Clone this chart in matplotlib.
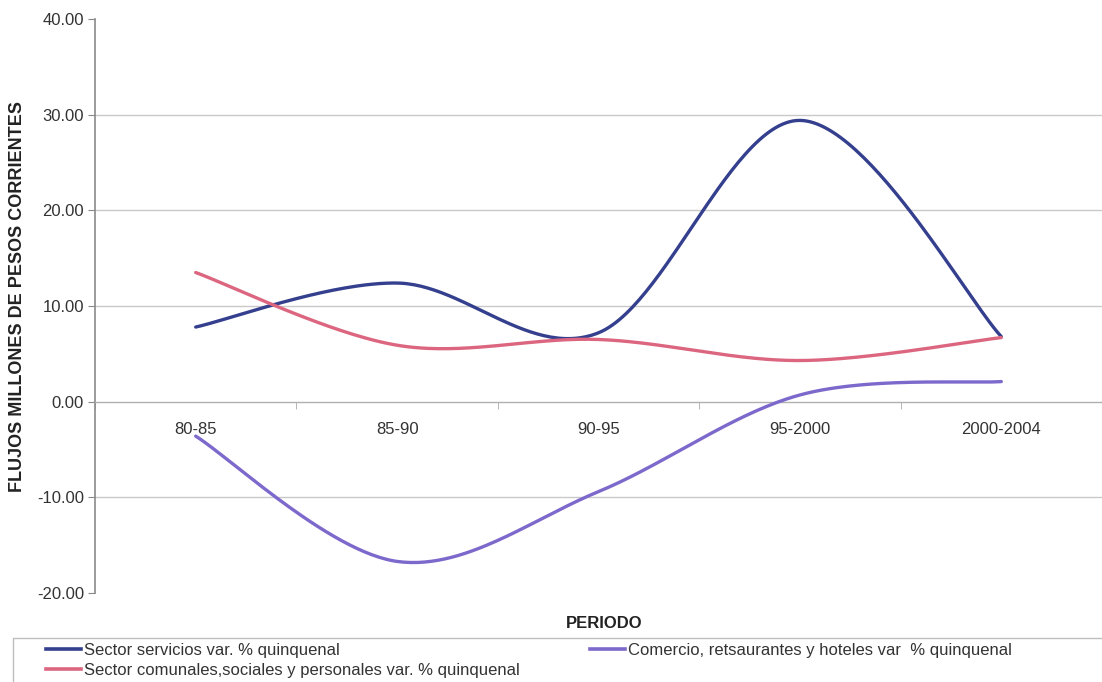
import numpy as np
import matplotlib
matplotlib.use("Agg")
import matplotlib.pyplot as plt
from matplotlib.patches import Rectangle
from matplotlib.lines import Line2D

plt.rcParams['font.family'] = ['Liberation Sans', 'DejaVu Sans']

periodos = ["80-85", "85-90", "90-95", "95-2000", "2000-2004"]
servicios = [7.8, 12.4, 7.2, 29.4, 6.8]
comercio = [-3.6, -16.7, -9.4, 0.7, 2.1]
comunales = [13.5, 5.9, 6.5, 4.3, 6.7]

lbl_servicios = "Sector servicios var. % quinquenal"
lbl_comercio = "Comercio, retsaurantes y hoteles var  % quinquenal"
lbl_comunales = "Sector comunales,sociales y personales var. % quinquenal"

yticks = [-20, -10, 0, 10, 20, 30, 40]
grid_levels = [-10, 10, 20, 30]

c_serv = "#343f8e"
c_com = "#7d68cc"
c_comu = "#dc6680"


def smooth(values, steps=60):
    """Smoothed line through the points: cubic Bezier segments whose
    control points follow the Catmull-Rom rule (as in spreadsheet charts)."""
    y = np.asarray(values, dtype=float)
    x = np.arange(len(y), dtype=float)
    pts = np.column_stack([x, y])
    ext = np.vstack([pts[0], pts, pts[-1]])
    t = np.linspace(0.0, 1.0, steps)[:, None]
    out = []
    for i in range(len(pts) - 1):
        p0 = ext[i + 1]
        p3 = ext[i + 2]
        c1 = p0 + (p3 - ext[i]) / 6.0
        c2 = p3 - (ext[i + 3] - p0) / 6.0
        seg = ((1 - t) ** 3) * p0 + 3 * ((1 - t) ** 2) * t * c1 \
            + 3 * (1 - t) * t ** 2 * c2 + t ** 3 * p3
        out.append(seg if i == 0 else seg[1:])
    seg = np.vstack(out)
    return seg[:, 0], seg[:, 1]


W, H = 1102, 682
fig = plt.figure(figsize=(W / 100, H / 100), dpi=100)
fig.patch.set_facecolor("white")

ax_left, ax_right = 95, 1102
ax_top, ax_bot = 19, 593
ax = fig.add_axes([ax_left / W, 1 - ax_bot / H,
                   (ax_right - ax_left) / W, (ax_bot - ax_top) / H])

# spines first: moving a spine resets the axis ticks
ax.spines["top"].set_visible(False)
ax.spines["right"].set_visible(False)
ax.spines["bottom"].set_position(("data", 0))
ax.spines["bottom"].set_color("#b0b0b0")
ax.spines["bottom"].set_linewidth(1.0)
ax.spines["left"].set_color("#8a8a8a")
ax.spines["left"].set_linewidth(1.2)
ax.set_facecolor("white")

for lv in grid_levels:
    ax.axhline(lv, color="#c9c9c9", lw=1.0, zorder=1)

for vals, col in [(servicios, c_serv), (comercio, c_com), (comunales, c_comu)]:
    sx, sy = smooth(vals)
    ax.plot(sx, sy, color=col, lw=2.4, solid_capstyle="round", zorder=3)

ax.set_ylim(-20, 40)
ax.set_xlim(-0.5, -0.5 + (ax_right - ax_left) / 202.0)
ax.set_yticks(yticks)
ax.set_yticklabels([f"{v:.2f}" for v in yticks])

ax.set_xticks(range(len(periodos)))
ax.set_xticklabels(periodos)
ax.set_xticks(np.arange(len(periodos) + 1) - 0.5, minor=True)
ax.tick_params(axis="x", which="major", length=0, pad=15,
               labelsize=12, labelcolor="#333333")
ax.tick_params(axis="x", which="minor", length=5, color="#aaaaaa", direction="out")
ax.tick_params(axis="y", length=5, color="#888888", direction="out", pad=3,
               labelsize=12, labelcolor="#333333")

fig.text(18 / W, 1 - 296 / H, "FLUJOS MILLONES DE PESOS CORRIENTES",
         rotation=90, ha="center", va="center", fontsize=13,
         fontweight="bold", color="#222222")
fig.text(604 / W, 1 - 623 / H, "PERIODO", ha="center", va="center",
         fontsize=12, fontweight="bold", color="#222222")

# legend frame
fig.patches.append(Rectangle((13 / W, -0.05), 1.2, 1 - 638 / H + 0.05,
                             transform=fig.transFigure, fill=False,
                             edgecolor="#bdbdbd", lw=1.0, zorder=0))

h_serv = Line2D([], [], color=c_serv, lw=2.6)
h_com = Line2D([], [], color=c_com, lw=2.6)
h_comu = Line2D([], [], color=c_comu, lw=2.6)

leg_kw = dict(frameon=False, fontsize=12, handlelength=2.1, handletextpad=0.18,
              labelspacing=0.3, borderpad=0, borderaxespad=0,
              labelcolor="#333333")
leg1 = fig.legend([h_serv, h_comu], [lbl_servicios, lbl_comunales],
                  loc="upper left", bbox_to_anchor=(46 / W, 1 - 643 / H), **leg_kw)
leg2 = fig.legend([h_com], [lbl_comercio],
                  loc="upper left", bbox_to_anchor=(590 / W, 1 - 643 / H), **leg_kw)

fig.savefig("out.png", dpi=100, facecolor="white")
